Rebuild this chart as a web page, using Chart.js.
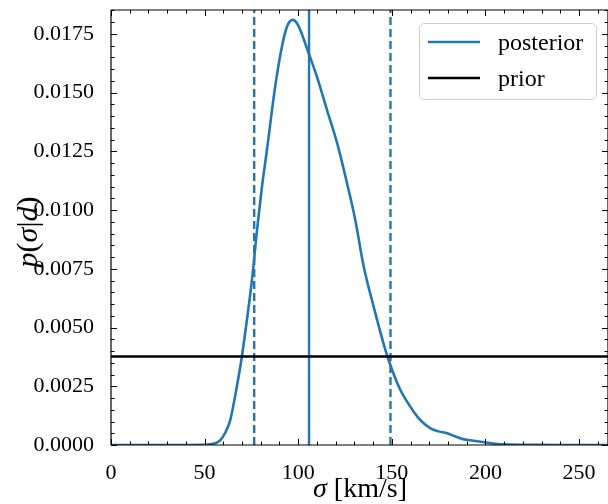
<!DOCTYPE html>
<html>
<head>
<meta charset="utf-8">
<script src="https://cdn.jsdelivr.net/npm/chart.js@4.4.0/dist/chart.umd.min.js"></script>
<style>
  html, body { margin: 0; padding: 0; background: #fff; }
  #wrap { width: 608px; height: 504px; }
</style>
</head>
<body>
<div id="wrap"><canvas id="c" width="608" height="504"></canvas></div>
<script>
// --- Datos ---
const sigma = [0, 30, 50, 55, 58.3, 61, 63.7, 67.2, 69.9, 72.6, 75.3, 78, 80.5, 83.3, 87.7, 91.3, 94, 97, 99, 101.1,
  105.6, 110, 115.4, 120.8, 126.1, 130.5, 135, 140.3, 146.6, 150.2, 154.6, 161.7, 166, 170.7, 175, 179.6, 184, 188.5,
  192, 197.4, 206.4, 213.5, 225, 240, 265.5];
const posterior = [0, 0, 0.00001, 0.00006, 0.0002, 0.00052, 0.00106, 0.00248, 0.00376, 0.00532, 0.00703, 0.00915, 0.0109,
  0.01256, 0.01526, 0.01696, 0.01781, 0.01810, 0.01800, 0.01767, 0.01668, 0.01568, 0.01426, 0.01285, 0.01114, 0.00958,
  0.00760, 0.00589, 0.00404, 0.00319, 0.00234, 0.00142, 0.00100, 0.00071, 0.00058, 0.00050, 0.00036, 0.00024, 0.00020,
  0.00014, 0.00004, 0.00002, 0.00001, 0, 0];
const priorValue = 0.00377;
const credLow = 76.5;
const credMedian = 105.8;
const credHigh = 149.3;

const xTicks = [0, 50, 100, 150, 200, 250];
const yTicks = [0, 0.0025, 0.005, 0.0075, 0.01, 0.0125, 0.015, 0.0175];
const xMinorStep = 10;
const yMinorStep = 0.0005;
const xRange = [0, 265.5];
const yRange = [0, 0.01852];

const BLUE = '#1f77b4';
const FONT = '"Liberation Serif", "DejaVu Serif", serif';

function vline(x) {
  return [{ x: x, y: yRange[0] }, { x: x, y: yRange[1] }];
}

// --- Texto con partes en cursiva ---
function drawRich(ctx, parts, x, y, size) {
  const fonts = parts.map(p => (p[1] ? 'italic ' : '') + size + 'px ' + FONT);
  let w = 0;
  parts.forEach((p, i) => { ctx.font = fonts[i]; w += ctx.measureText(p[0]).width; });
  let cx = x - w / 2;
  ctx.textAlign = 'left';
  ctx.textBaseline = 'alphabetic';
  parts.forEach((p, i) => {
    ctx.font = fonts[i];
    ctx.fillText(p[0], cx, y);
    cx += ctx.measureText(p[0]).width;
  });
}

// --- Ejes estilo matplotlib: bordes, marcas hacia dentro, títulos y leyenda ---
const decorPlugin = {
  id: 'decor',
  afterDraw(chart) {
    const ctx = chart.ctx;
    const a = chart.chartArea;
    const xs = chart.scales.x, ys = chart.scales.y;
    ctx.save();
    ctx.strokeStyle = '#000';
    ctx.lineWidth = 1.2;
    ctx.beginPath();
    ctx.moveTo(a.left, a.top); ctx.lineTo(a.left, a.bottom);
    ctx.moveTo(a.left, a.bottom); ctx.lineTo(a.right, a.bottom);
    ctx.moveTo(a.left, a.top); ctx.lineTo(a.right, a.top);
    ctx.moveTo(a.right, a.top); ctx.lineTo(a.right, a.bottom);
    ctx.stroke();

    ctx.lineWidth = 1;
    ctx.beginPath();
    // x: mayores y menores, abajo y arriba
    for (let v = xRange[0]; v <= xRange[1] + 1e-9; v += xMinorStep) {
      const px = Math.round(xs.getPixelForValue(v)) + 0.5;
      const len = xTicks.includes(v) ? 6 : 3.5;
      ctx.moveTo(px, a.bottom); ctx.lineTo(px, a.bottom - len);
      ctx.moveTo(px, a.top); ctx.lineTo(px, a.top + len);
    }
    // y: mayores y menores, izquierda y derecha
    for (let i = 0; i * yMinorStep <= yRange[1] + 1e-12; i++) {
      const v = i * yMinorStep;
      const py = Math.round(ys.getPixelForValue(v)) + 0.5;
      const len = (i % 5 === 0) ? 6 : 3.5;
      ctx.moveTo(a.left, py); ctx.lineTo(a.left + len, py);
      ctx.moveTo(a.right, py); ctx.lineTo(a.right - len, py);
    }
    ctx.stroke();

    // títulos de ejes
    ctx.fillStyle = '#000';
    drawRich(ctx, [['σ', true], [' [km/s]', false]], 360, 497, 28);
    ctx.save();
    ctx.translate(37, 232);
    ctx.rotate(-Math.PI / 2);
    drawRich(ctx, [['p', true], ['(', false], ['σ', true], ['|', false], ['d', true], [')', false]], 0, 0, 30);
    ctx.restore();

    // leyenda
    const lx = 419, ly = 23, lw = 177, lh = 76, r = 5;
    ctx.globalAlpha = 0.8;
    ctx.fillStyle = '#fff';
    ctx.strokeStyle = '#cccccc';
    ctx.lineWidth = 1;
    ctx.beginPath();
    ctx.roundRect(lx + 0.5, ly + 0.5, lw, lh, r);
    ctx.fill();
    ctx.globalAlpha = 1;
    ctx.stroke();
    const entries = [chart.data.datasets[0], chart.data.datasets[1]];
    entries.forEach((ds, i) => {
      const y = 42 + i * 36;
      ctx.strokeStyle = ds.borderColor;
      ctx.lineWidth = ds.borderWidth;
      ctx.beginPath();
      ctx.moveTo(428, y); ctx.lineTo(480, y);
      ctx.stroke();
      ctx.fillStyle = '#000';
      ctx.font = '24px ' + FONT;
      ctx.textAlign = 'left';
      ctx.textBaseline = 'alphabetic';
      ctx.fillText(ds.label, 498, y + 8);
    });
    ctx.restore();
  }
};

const tickFont = { family: FONT, size: 22 };

new Chart(document.getElementById('c'), {
  type: 'scatter',
  data: {
    datasets: [
      {
        label: 'posterior',
        data: sigma.map((s, i) => ({ x: s, y: posterior[i] })),
        showLine: true, borderColor: BLUE, borderWidth: 2.6, pointRadius: 0,
        cubicInterpolationMode: 'monotone', order: 1
      },
      {
        label: 'prior',
        data: [{ x: xRange[0], y: priorValue }, { x: xRange[1], y: priorValue }],
        showLine: true, borderColor: '#000', borderWidth: 2.6, pointRadius: 0, order: 0
      },
      {
        label: 'median',
        data: vline(credMedian),
        showLine: true, borderColor: BLUE, borderWidth: 2.4, pointRadius: 0, order: 2
      },
      {
        label: 'low',
        data: vline(credLow),
        showLine: true, borderColor: BLUE, borderWidth: 2.4, borderDash: [8, 4], pointRadius: 0, order: 2
      },
      {
        label: 'high',
        data: vline(credHigh),
        showLine: true, borderColor: BLUE, borderWidth: 2.4, borderDash: [8, 4], pointRadius: 0, order: 2
      }
    ]
  },
  options: {
    responsive: false,
    animation: false,
    devicePixelRatio: 1,
    layout: { padding: { top: 10, right: 0, left: 0, bottom: 0 } },
    plugins: { legend: { display: false }, tooltip: { enabled: false } },
    scales: {
      x: {
        type: 'linear', min: xRange[0], max: xRange[1],
        afterBuildTicks: s => { s.ticks = xTicks.map(v => ({ value: v })); },
        afterFit: s => { s.height = 59; s.paddingLeft = 0; s.paddingRight = 0; },
        grid: { display: false }, border: { display: false },
        ticks: { font: tickFont, color: '#000', padding: 7, maxRotation: 0, autoSkip: false, callback: v => String(v) }
      },
      y: {
        type: 'linear', min: yRange[0], max: yRange[1],
        afterBuildTicks: s => { s.ticks = yTicks.map(v => ({ value: v })); },
        afterFit: s => { s.width = 111; s.paddingTop = 0; s.paddingBottom = 0; },
        grid: { display: false }, border: { display: false },
        ticks: { font: tickFont, color: '#000', padding: 9, autoSkip: false, callback: v => v.toFixed(4) }
      }
    }
  },
  plugins: [decorPlugin]
});
</script>
</body>
</html>
